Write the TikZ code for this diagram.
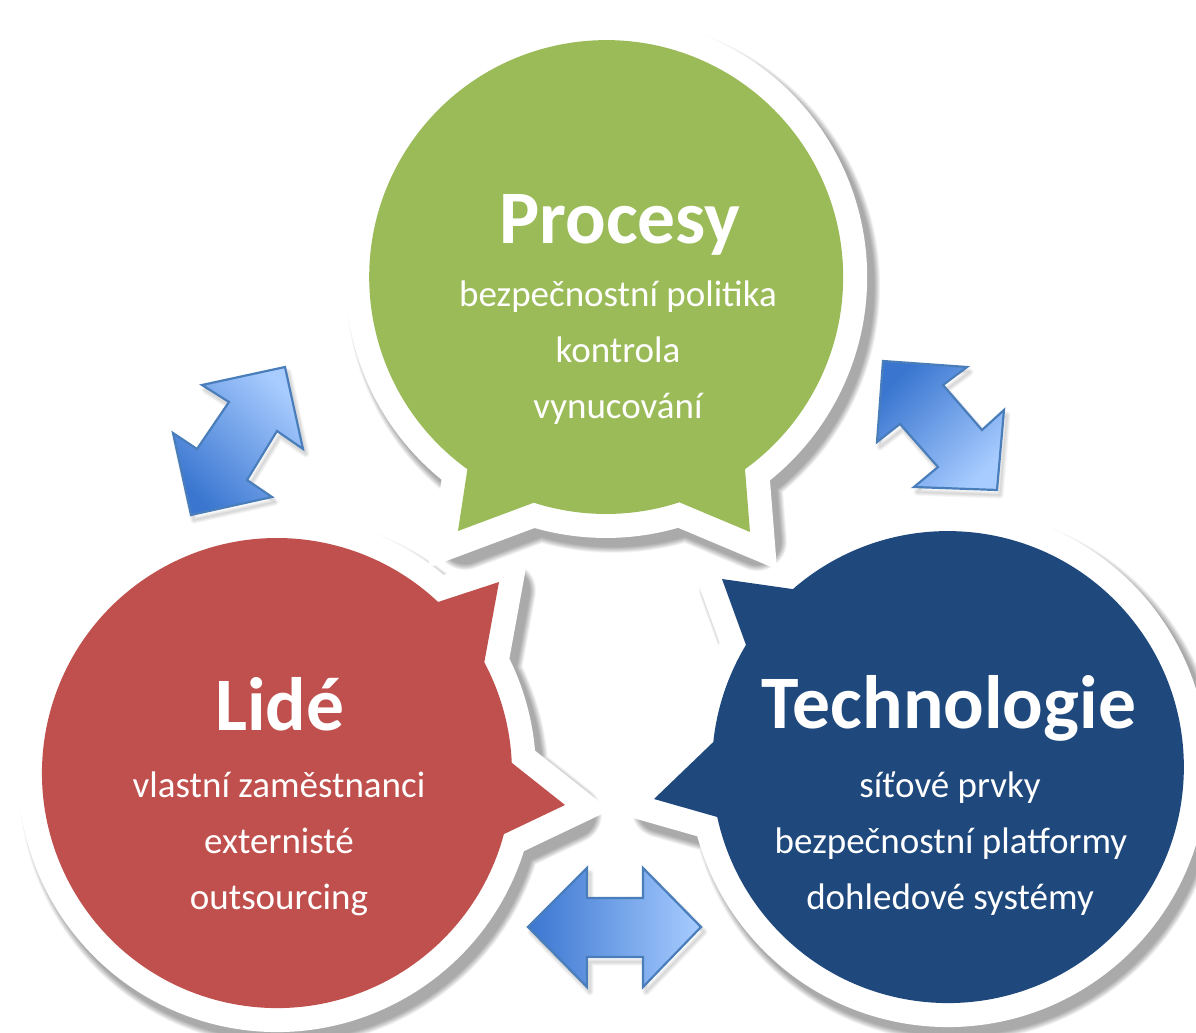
\documentclass[tikz,border=0pt]{standalone}
\usepackage{fontspec}
\setmainfont{Carlito}
\begin{document}
\begin{tikzpicture}[x=0.5pt,y=-0.5pt]
\definecolor{procgreen}{RGB}{155,187,89}
\definecolor{peoplered}{RGB}{192,80,77}
\definecolor{techblue}{RGB}{31,73,125}
\definecolor{arrdark}{RGB}{58,118,208}
\definecolor{arrlight}{RGB}{168,204,255}
\definecolor{arredge}{RGB}{74,126,187}
\tikzset{
  ring/.style={draw=white, fill=white, line width=24pt, line join=miter},
  softshade/.style={draw=black, draw opacity=0.03, line join=round},
  title/.style={text=white, inner sep=0pt, anchor=base, font=\fontsize{37.8}{42}\selectfont\bfseries},
  item/.style={text=white, inner sep=0pt, anchor=base, font=\fontsize{18.5}{22}\selectfont},
  twoway/.style={draw=arredge, line width=1.1pt, line join=miter},
}
% bubble outlines: circle plus two pointed tails
\def\shapeG{(467.4,469.2) arc[start angle=125.85,end angle=414.15,radius=237] -- (750,532) -- (679.4,502.3) arc[start angle=71.95,end angle=107.74,radius=237] -- (458,531) -- cycle}
\def\shapeR{(503.9,834.1) arc[start angle=15.06,end angle=313.28,radius=235] -- (499,582) -- (484.3,662.3) arc[start angle=331.90,end angle=357.52,radius=235] -- (565,805) -- cycle}
\def\shapeB{(792.9,589.1) arc[start angle=228.95,end angle=527.79,radius=236] -- (654,799) -- (713.3,742.0) arc[start angle=186.07,end angle=211.13,radius=236] -- (722,579) -- cycle}
% double-headed block arrows
\def\shapeLA{(202,385) -- (285,367) -- (303,449) -- (277,431) -- (247,480) -- (272,497) -- (191,515) -- (173,433) -- (197,449) -- (229,402) -- cycle}
\def\shapeRA{(883,361) -- (967,367) -- (943,385) -- (982,430) -- (1004,410) -- (997,490) -- (914,487) -- (938,467) -- (900,424) -- (877,442) -- cycle}
\def\shapeBA{(528,927) -- (587,868) -- (587,898) -- (643,898) -- (643,868) -- (701,927) -- (643,987) -- (643,957) -- (587,957) -- (587,987) -- cycle}

\fill[white] (0,0) rectangle (1196,1033);
\useasboundingbox (0,0) rectangle (1196,1033);

% Technologie
\begin{scope}[shift={(7,9)}]
  \foreach \k in {0,...,11} {\draw[softshade, line width={24pt+\k*0.55pt}] \shapeB;}
\end{scope}
\draw[ring] \shapeB;
\fill[techblue] \shapeB;

% Lidé
\begin{scope}[shift={(7,9)}]
  \foreach \k in {0,...,11} {\draw[softshade, line width={24pt+\k*0.55pt}] \shapeR;}
\end{scope}
\draw[ring] \shapeR;
\fill[peoplered] \shapeR;

% Procesy
\begin{scope}[shift={(7,9)}]
  \foreach \k in {0,...,11} {\draw[softshade, line width={24pt+\k*0.55pt}] \shapeG;}
\end{scope}
\draw[ring] \shapeG;
\fill[procgreen] \shapeG;

% arrows with a faint shadow
\begin{scope}[shift={(3,5)}]
  \foreach \k in {0,...,4} {
    \draw[softshade, line width={0.5pt+\k*0.8pt}] \shapeLA;
    \draw[softshade, line width={0.5pt+\k*0.8pt}] \shapeRA;
    \draw[softshade, line width={0.5pt+\k*0.8pt}] \shapeBA;
  }
\end{scope}
\shade[top color=arrlight, bottom color=arrdark, shading angle=-45] \shapeLA;
\draw[twoway] \shapeLA;
\shade[top color=arrlight, bottom color=arrdark, shading angle=-135] \shapeRA;
\draw[twoway] \shapeRA;
\shade[top color=arrlight, bottom color=arrdark, shading angle=-90] \shapeBA;
\draw[twoway] \shapeBA;

% texts
\node[title] (tG) at (620,243) {Procesy};
\node[item] (g1) at (618,306) {bezpečnostní politika};
\node[item] (g2) at (618,362) {kontrola};
\node[item] (g3) at (618,418) {vynucování};

\node[title] (tR) at (280,730) {Lidé};
\node[item] (r1) at (279,797) {vlastní zaměstnanci};
\node[item] (r2) at (279,853) {externisté};
\node[item] (r3) at (279,909) {outsourcing};

\node[title] (tB) at (949,728) {Technologie};
\node[item] (b1) at (950,797) {síťové prvky};
\node[item] (b2) at (951,853) {bezpečnostní platformy};
\node[item] (b3) at (950,909) {dohledové systémy};
\end{tikzpicture}
\end{document}
